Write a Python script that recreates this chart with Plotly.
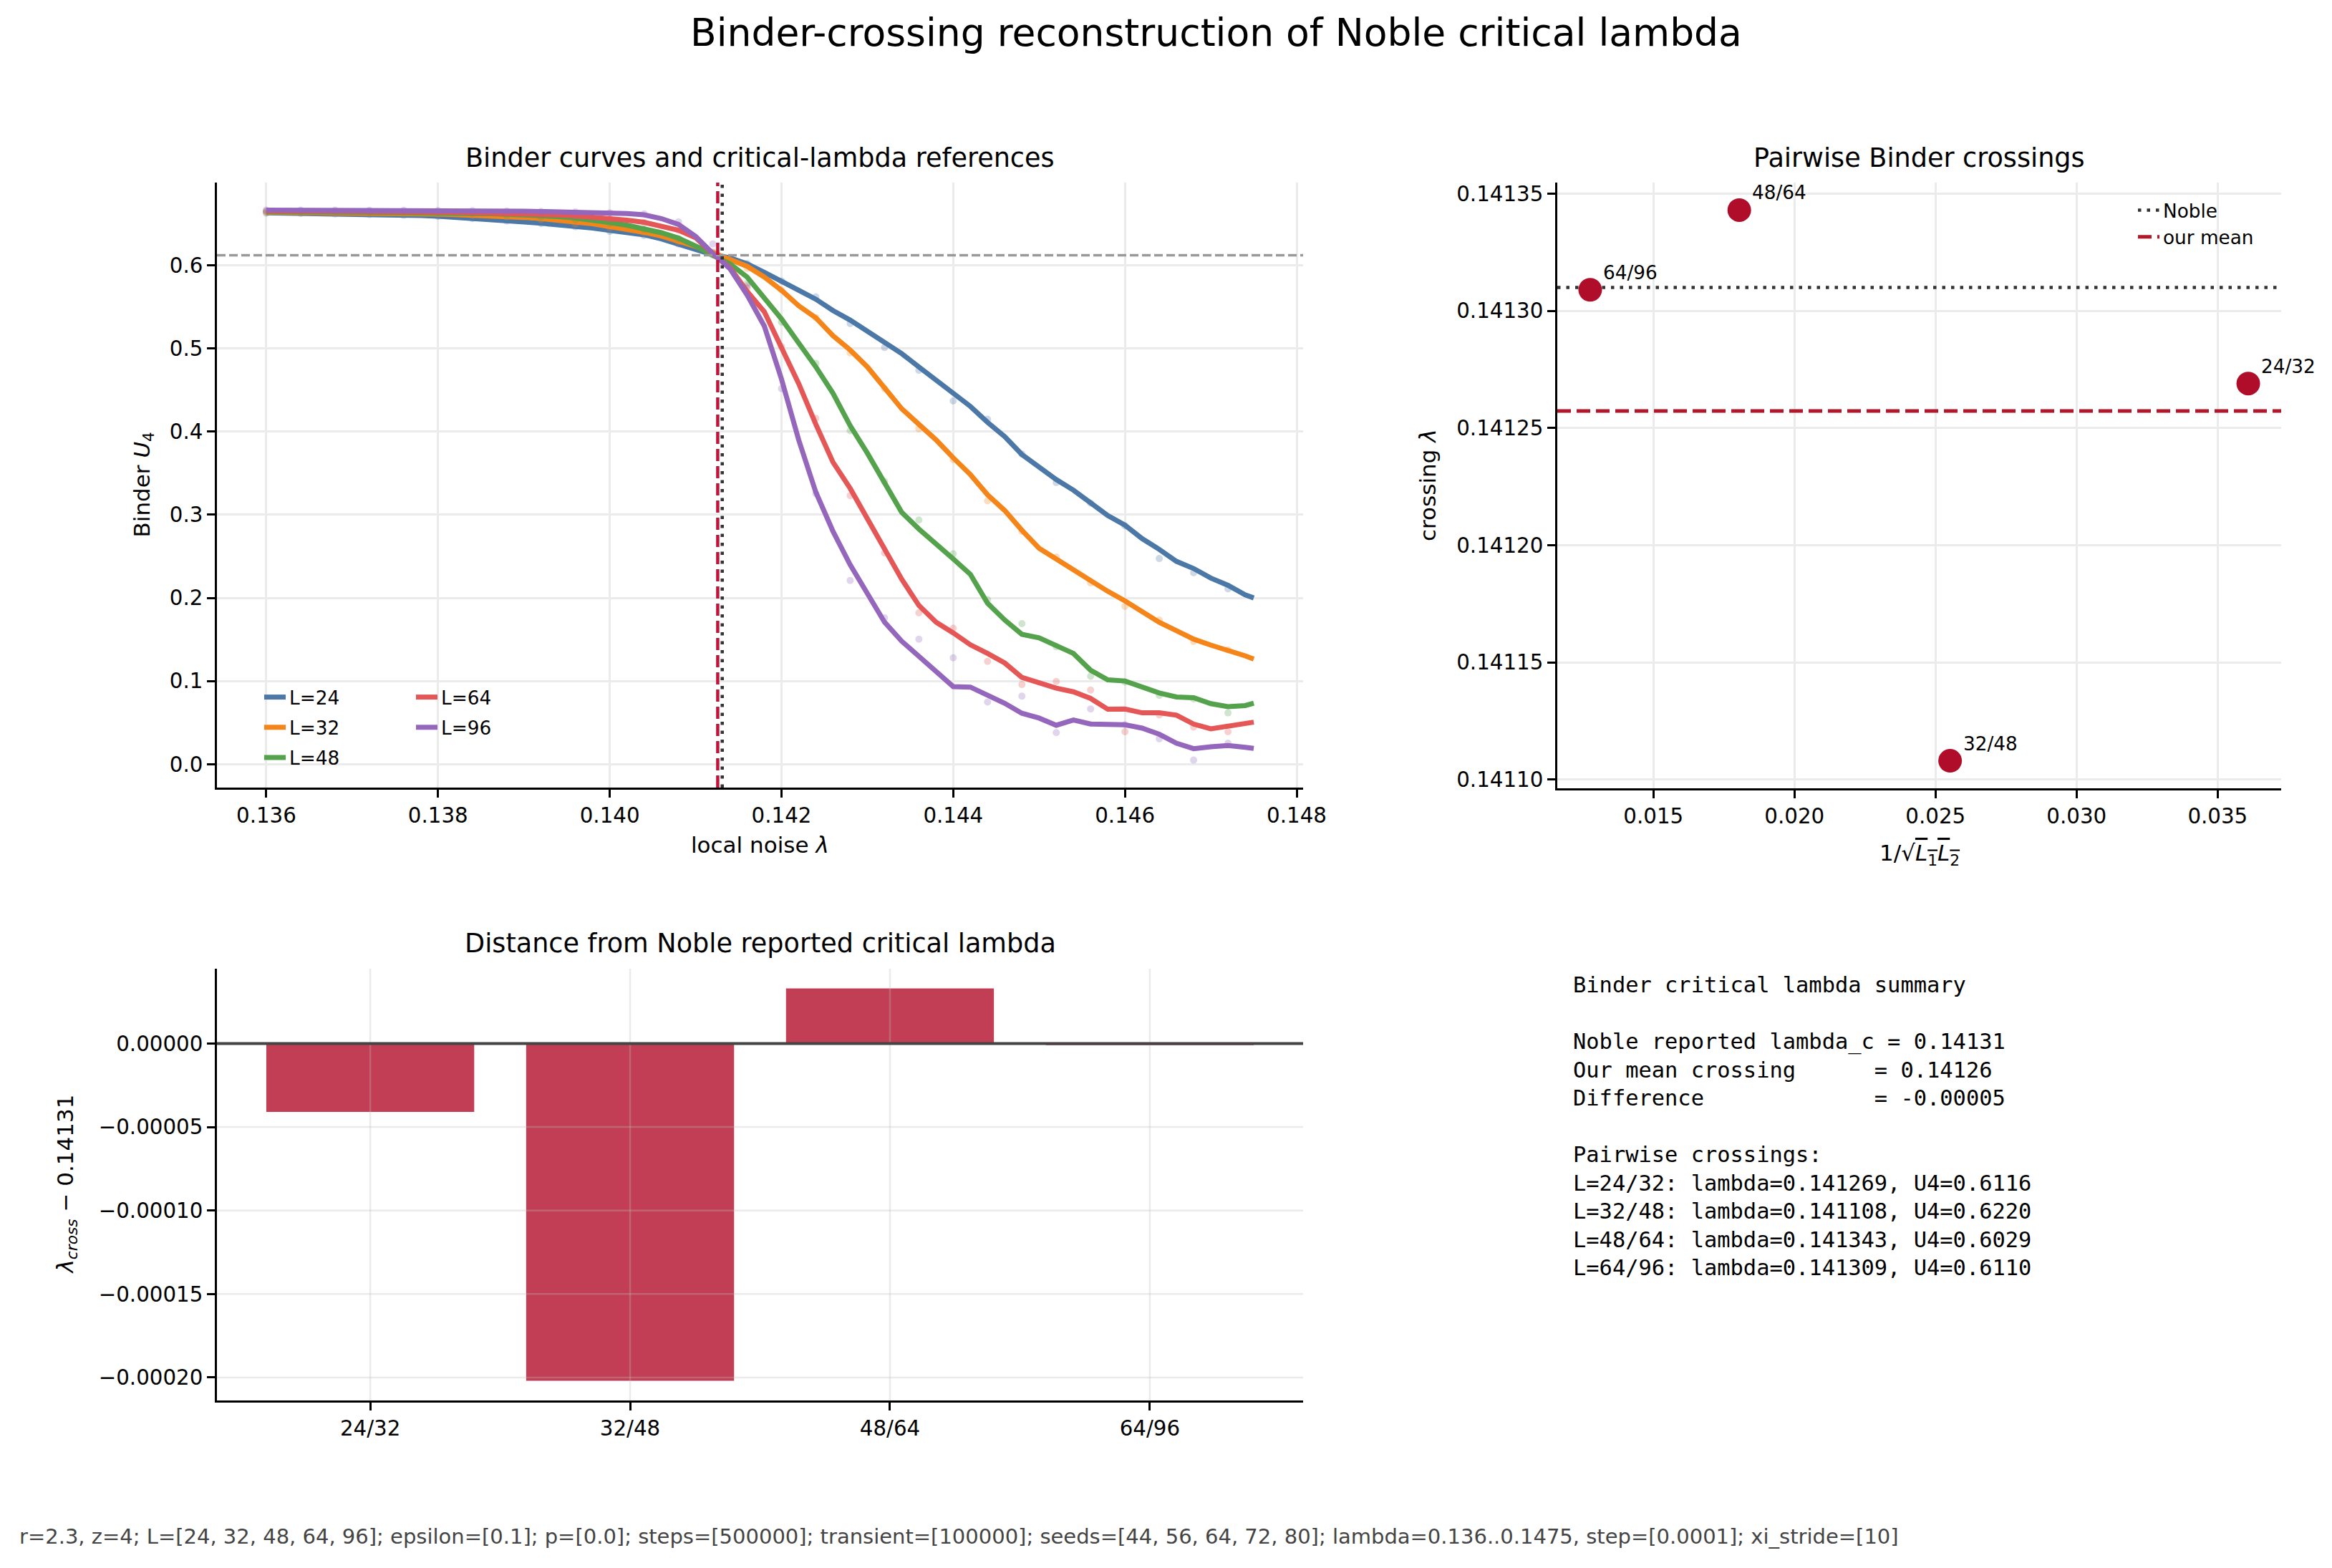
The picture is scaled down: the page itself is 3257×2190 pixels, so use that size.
import plotly.graph_objects as go

# ---------------- data ----------------
L_sizes = [24, 32, 48, 64, 96]
L_colors = ["#4C78A8", "#F58518", "#54A24B", "#E45756", "#9467BD"]

# lambda grid of the (smoothed) curves, and of the sparse raw points
lam_line = [round(0.136 + 0.0002 * k, 4) for k in range(58)] + [0.1475]
lam_raw = [round(0.136 + 0.0004 * k, 4) for k in range(29)]

U_line_24 = [0.6628, 0.6626, 0.6624, 0.6622, 0.6619, 0.6616, 0.6612, 0.6608, 0.6602, 0.6596, 0.6588,
             0.6577, 0.6565, 0.6552, 0.6537, 0.6520, 0.6504, 0.6487, 0.6468, 0.6445, 0.6418,
             0.6395, 0.6365, 0.6315, 0.6250, 0.6185, 0.6125,
             0.6087, 0.6015, 0.5914, 0.5814, 0.5698, 0.5590, 0.5454, 0.5339, 0.5210, 0.5065,
             0.4936, 0.4777, 0.4619, 0.4460, 0.4302, 0.4110, 0.3939, 0.3724, 0.3567, 0.3423,
             0.3295, 0.3133, 0.2990, 0.2875, 0.2712, 0.2583, 0.2439, 0.2353, 0.2238, 0.2151,
             0.2036, 0.1999]
U_line_32 = [0.6636, 0.6635, 0.6634, 0.6632, 0.6630, 0.6628, 0.6626, 0.6623, 0.6620, 0.6617, 0.6613,
             0.6608, 0.6602, 0.6595, 0.6586, 0.6574, 0.6560, 0.6543, 0.6523, 0.6497, 0.6462,
             0.6430, 0.6395, 0.6350, 0.6290, 0.6225, 0.6150,
             0.6075, 0.5986, 0.5857, 0.5698, 0.5511, 0.5367, 0.5152, 0.4979, 0.4777, 0.4533,
             0.4274, 0.4087, 0.3900, 0.3684, 0.3482, 0.3240, 0.3050, 0.2813, 0.2597, 0.2468,
             0.2338, 0.2194, 0.2079, 0.1964, 0.1835, 0.1706, 0.1605, 0.1504, 0.1432, 0.1375,
             0.1303, 0.1265]
U_line_48 = [0.6645, 0.6644, 0.6643, 0.6642, 0.6641, 0.6640, 0.6638, 0.6636, 0.6634, 0.6632, 0.6629,
             0.6626, 0.6622, 0.6618, 0.6612, 0.6605, 0.6595, 0.6583, 0.6567, 0.6545, 0.6512,
             0.6480, 0.6440, 0.6390, 0.6325, 0.6230, 0.6118,
             0.6015, 0.5857, 0.5598, 0.5353, 0.5065, 0.4777, 0.4460, 0.4070, 0.3740, 0.3374,
             0.3029, 0.2828, 0.2656, 0.2469, 0.2283, 0.1936, 0.1734, 0.1562, 0.1519, 0.1432,
             0.1332, 0.1130, 0.1015, 0.1001, 0.0923, 0.0857, 0.0808, 0.0800, 0.0728, 0.0693,
             0.0705, 0.0733]
U_line_64 = [0.6652, 0.6652, 0.6651, 0.6650, 0.6649, 0.6648, 0.6647, 0.6645, 0.6643, 0.6641, 0.6638,
             0.6635, 0.6632, 0.6628, 0.6624, 0.6619, 0.6612, 0.6604, 0.6593, 0.6578, 0.6555,
             0.6540, 0.6515, 0.6475, 0.6420, 0.6330, 0.6135,
             0.5972, 0.5684, 0.5440, 0.5008, 0.4576, 0.4087, 0.3630, 0.3316, 0.2943, 0.2570,
             0.2225, 0.1909, 0.1708, 0.1579, 0.1436, 0.1332, 0.1217, 0.1044, 0.0972, 0.0915,
             0.0871, 0.0791, 0.0661, 0.0664, 0.0618, 0.0618, 0.0590, 0.0483, 0.0426, 0.0454,
             0.0492, 0.0506]
U_line_96 = [0.6662, 0.6662, 0.6662, 0.6661, 0.6661, 0.6660, 0.6660, 0.6659, 0.6658, 0.6657, 0.6656,
             0.6655, 0.6654, 0.6652, 0.6650, 0.6648, 0.6645, 0.6642, 0.6638, 0.6633, 0.6627,
             0.6620, 0.6605, 0.6560, 0.6490, 0.6345, 0.6140,
             0.5957, 0.5640, 0.5267, 0.4630, 0.3900, 0.3270, 0.2799, 0.2397, 0.2038, 0.1708,
             0.1479, 0.1292, 0.1105, 0.0933, 0.0927, 0.0828, 0.0733, 0.0613, 0.0555, 0.0469,
             0.0532, 0.0483, 0.0477, 0.0475, 0.0434, 0.0360, 0.0253, 0.0187, 0.0210, 0.0224,
             0.0204, 0.0190]

U_raw_24 = [0.6625, 0.6622, 0.6617, 0.6610, 0.6600, 0.6586, 0.6560, 0.6530, 0.6500, 0.6462, 0.6405,
            0.6355, 0.6255, 0.6135, 0.6020, 0.5810, 0.5617, 0.5298, 0.5010, 0.4735, 0.4367,
            0.4147, 0.3729, 0.3387, 0.3139, 0.2865, 0.2473, 0.2302, 0.2109]
U_raw_32 = [0.6634, 0.6634, 0.6631, 0.6627, 0.6622, 0.6615, 0.6600, 0.6580, 0.6545, 0.6495, 0.6450,
            0.6390, 0.6280, 0.6160, 0.5960, 0.5700, 0.5369, 0.4945, 0.4516, 0.4031, 0.3662,
            0.3166, 0.2798, 0.2491, 0.2180, 0.1898, 0.1734, 0.1475, 0.1375]
U_raw_48 = [0.6644, 0.6643, 0.6641, 0.6638, 0.6635, 0.6630, 0.6620, 0.6600, 0.6580, 0.6545, 0.6500,
            0.6430, 0.6320, 0.6120, 0.5780, 0.5314, 0.4819, 0.4010, 0.3399, 0.2937, 0.2529,
            0.1979, 0.1691, 0.1412, 0.1058, 0.0990, 0.0828, 0.0785, 0.0618]
U_raw_64 = [0.6651, 0.6650, 0.6649, 0.6647, 0.6644, 0.6639, 0.6632, 0.6624, 0.6610, 0.6590, 0.6555,
            0.6510, 0.6420, 0.6150, 0.5728, 0.5021, 0.4158, 0.3230, 0.2540, 0.1820, 0.1635,
            0.1237, 0.0958, 0.0995, 0.0892, 0.0391, 0.0593, 0.0446, 0.0391]
U_raw_96 = [0.6662, 0.6662, 0.6661, 0.6660, 0.6659, 0.6657, 0.6655, 0.6651, 0.6646, 0.6640, 0.6630,
            0.6615, 0.6520, 0.6255, 0.5750, 0.4516, 0.3253, 0.2210, 0.1760, 0.1503, 0.1280,
            0.0748, 0.0818, 0.0380, 0.0665, 0.0475, 0.0306, 0.0050, 0.0252]

U_line = [U_line_24, U_line_32, U_line_48, U_line_64, U_line_96]
U_raw = [U_raw_24, U_raw_32, U_raw_48, U_raw_64, U_raw_96]

pair_labels = ["24/32", "32/48", "48/64", "64/96"]
pair_L1 = [24, 32, 48, 64]
pair_L2 = [32, 48, 64, 96]
cross_lambda = [0.141269, 0.141108, 0.141343, 0.141309]
cross_U4 = [0.6116, 0.6220, 0.6029, 0.6110]
noble_lambda_c = 0.14131

footer_text = ("r=2.3, z=4; L=[24, 32, 48, 64, 96]; epsilon=[0.1]; p=[0.0]; steps=[500000]; "
               "transient=[100000]; seeds=[44, 56, 64, 72, 80]; lambda=0.136..0.1475, "
               "step=[0.0001]; xi_stride=[10]")

# derived quantities
mean_cross = sum(cross_lambda) / len(cross_lambda)
mean_U4 = sum(cross_U4) / len(cross_U4)
inv_size = [1.0 / (a * b) ** 0.5 for a, b in zip(pair_L1, pair_L2)]
diffs = [c - noble_lambda_c for c in cross_lambda]

# ---------------- layout helpers ----------------
W, H = 3257, 2190
def fx(p):
    return p / W
def fy(p):
    return 1 - p / H

FONT = "DejaVu Sans"
MONO = "DejaVu Sans Mono"
TICK = 29.3
LAB = 31
TITLE = 36.6
LEG = 26.3

def padded(lo, hi, frac=0.05):
    d = (hi - lo) * frac
    return [lo - d, hi + d]

axis_common = dict(showline=True, linecolor="black", linewidth=2.5, ticks="outside",
                   ticklen=11, tickwidth=2.5, tickcolor="black", showgrid=True,
                   gridcolor="#ebebeb", gridwidth=2.5, zeroline=False, mirror=False,
                   automargin=False,
                   tickfont=dict(family=FONT, size=TICK, color="black"))

fig = go.Figure()

# ---------------- panel 1: Binder curves ----------------
for L, c, ul, ur in zip(L_sizes, L_colors, U_line, U_raw):
    fig.add_trace(go.Scatter(x=lam_raw, y=ur, mode="markers", xaxis="x", yaxis="y",
                             marker=dict(color=c, size=10, opacity=0.28, line=dict(width=0)),
                             showlegend=False, hoverinfo="skip", legendgroup=f"L{L}"))
    fig.add_trace(go.Scatter(x=lam_line, y=ul, mode="lines", xaxis="x", yaxis="y",
                             line=dict(color=c, width=7), name=f"L={L}",
                             legend="legend" if L in (24, 32, 48) else "legend2",
                             legendgroup=f"L{L}"))

all_raw = [v for r in U_raw for v in r]
x1_range = padded(min(lam_line), max(lam_line))
y1_range = padded(min(all_raw), max(max(all_raw), max(max(u) for u in U_line)))

# ---------------- panel 2: pairwise crossings ----------------
x2_range = padded(min(inv_size), max(inv_size))
y2_range = padded(min(cross_lambda), max(cross_lambda))
fig.add_trace(go.Scatter(x=x2_range, y=[noble_lambda_c, noble_lambda_c], mode="lines",
                         xaxis="x2", yaxis="y2", name="Noble", legend="legend3",
                         line=dict(color="#333333", width=4.5, dash="4.5px,8px")))
fig.add_trace(go.Scatter(x=x2_range, y=[mean_cross, mean_cross], mode="lines",
                         xaxis="x2", yaxis="y2", name="our mean", legend="legend3",
                         line=dict(color="#b2182b", width=5, dash="19px,8px")))
fig.add_trace(go.Scatter(x=inv_size, y=cross_lambda, mode="markers", xaxis="x2", yaxis="y2",
                         marker=dict(color="#b00d2b", size=33, line=dict(width=0)),
                         showlegend=False))

# ---------------- panel 3: distance bars ----------------
xcat = list(range(len(pair_labels)))
fig.add_trace(go.Bar(x=xcat, y=diffs, width=0.8, xaxis="x3", yaxis="y3",
                     marker=dict(color="rgb(194,62,85)", line=dict(width=0)),
                     showlegend=False))
x3_range = padded(-0.4, len(pair_labels) - 1 + 0.4)
y3_range = padded(min(min(diffs), 0), max(max(diffs), 0))
y3_ticks = [0.0, -0.00005, -0.0001, -0.00015, -0.0002]

# ---------------- axes ----------------
fig.update_layout(
    xaxis=dict(axis_common, domain=[fx(303), fx(1820)], anchor="y", range=x1_range,
               tickvals=[0.136, 0.138, 0.140, 0.142, 0.144, 0.146, 0.148], tickformat=".3f"),
    yaxis=dict(axis_common, domain=[fy(1100), fy(255)], anchor="x", range=y1_range,
               tickvals=[0.0, 0.1, 0.2, 0.3, 0.4, 0.5, 0.6], tickformat=".1f"),
    xaxis2=dict(axis_common, domain=[fx(2175), fx(3186)], anchor="y2", range=x2_range,
                tickvals=[0.015, 0.020, 0.025, 0.030, 0.035], tickformat=".3f"),
    yaxis2=dict(axis_common, domain=[fy(1101), fy(255)], anchor="x2", range=y2_range,
                tickvals=[0.14110, 0.14115, 0.14120, 0.14125, 0.14130, 0.14135], tickformat=".5f"),
    xaxis3=dict(axis_common, domain=[fx(303), fx(1820)], anchor="y3", range=x3_range,
                tickvals=xcat, ticktext=pair_labels, showgrid=False),
    yaxis3=dict(axis_common, domain=[fy(1956), fy(1353)], anchor="x3", range=y3_range,
                tickvals=y3_ticks, tickformat=".5f", showgrid=False),
)

shapes = []
# panel 1 reference lines
shapes.append(dict(type="line", xref="x domain", yref="y", x0=0, x1=1, y0=mean_U4, y1=mean_U4,
                   line=dict(color="#999999", width=3.3, dash="12px,5px")))
shapes.append(dict(type="line", xref="x", yref="y domain", x0=mean_cross, x1=mean_cross, y0=0, y1=1,
                   line=dict(color="#c0143c", width=4.5, dash="17px,7px")))
shapes.append(dict(type="line", xref="x", yref="y domain", x0=noble_lambda_c, x1=noble_lambda_c,
                   y0=0, y1=1, line=dict(color="#333333", width=4.5, dash="4.5px,8px")))
# panel 3 grid (drawn over the bars) and zero line
for t in y3_ticks:
    shapes.append(dict(type="line", xref="x3 domain", yref="y3", x0=0, x1=1, y0=t, y1=t,
                       layer="above", line=dict(color="rgba(190,190,190,0.3)", width=2.5)))
for t in xcat:
    shapes.append(dict(type="line", xref="x3", yref="y3 domain", x0=t, x1=t, y0=0, y1=1,
                       layer="above", line=dict(color="rgba(190,190,190,0.3)", width=2.5)))
shapes.append(dict(type="line", xref="x3 domain", yref="y3", x0=0, x1=1, y0=0, y1=0,
                   layer="above", line=dict(color="#444444", width=4)))

annotations = []
def text(x, y, s, size, **kw):
    d = dict(xref="paper", yref="paper", x=fx(x), y=fy(y), text=s, showarrow=False,
             font=dict(family=kw.pop("family", FONT), size=size, color=kw.pop("color", "black")),
             xanchor=kw.pop("xanchor", "center"), yanchor=kw.pop("yanchor", "middle"))
    d.update(kw)
    annotations.append(d)

text(1698, 46, "Binder-crossing reconstruction of Noble critical lambda", 53.5)
text(1061.5, 220, "Binder curves and critical-lambda references", TITLE)
text(2680.5, 220, "Pairwise Binder crossings", TITLE)
text(1061.5, 1317, "Distance from Noble reported critical lambda", TITLE)
text(1061.5, 1180, "local noise <i>λ</i>", LAB)
text(200, 677.5, "Binder <i>U</i><sub>4</sub>", LAB, textangle=-90)
text(1994, 678, "crossing <i>λ</i>", LAB, textangle=-90)
text(2680.5, 1193, '1/√<span style="text-decoration:overline"><i>L</i><sub>1</sub><i>L</i><sub>2</sub></span>', LAB)
text(93, 1654.5, "<i>λ</i><sub><i>cross</i></sub> − 0.14131", LAB, textangle=-90)

for lab, xv, yv in zip(pair_labels, inv_size, cross_lambda):
    annotations.append(dict(xref="x2", yref="y2", x=xv, y=yv, text=lab, showarrow=False,
                            xanchor="left", yanchor="bottom", xshift=16, yshift=7,
                            font=dict(family=FONT, size=LEG, color="black")))

NB = "\u00a0"
summary_lines = [
    "Binder critical lambda summary",
    "",
    f"Noble reported lambda_c = {noble_lambda_c:.5f}",
    "Our mean crossing" + NB * 6 + f"= {mean_cross:.5f}",
    "Difference" + NB * 13 + f"= {mean_cross - noble_lambda_c:.5f}",
    "",
    "Pairwise crossings:",
] + [f"L={lab}: lambda={c:.6f}, U4={u:.4f}" for lab, c, u in zip(pair_labels, cross_lambda, cross_U4)]
summary = "<br>".join(s.replace(" ", NB) if s else NB for s in summary_lines)
text(2195, 1356, summary, 30.4, family=MONO, xanchor="left", yanchor="top", align="left")

text(25, 2146, footer_text, 29.0, color="#444444", xanchor="left")

leg_common = dict(bgcolor="rgba(0,0,0,0)", borderwidth=0, xanchor="left", yanchor="top",
                  font=dict(family=FONT, size=LEG, color="black"), tracegroupgap=5,
                  itemwidth=30)

fig.update_layout(
    width=W, height=H, margin=dict(l=0, r=0, t=0, b=0, autoexpand=False),
    paper_bgcolor="white", plot_bgcolor="white",
    font=dict(family=FONT, color="black"),
    shapes=shapes, annotations=annotations,
    legend=dict(leg_common, x=fx(364), y=fy(950)),
    legend2=dict(leg_common, x=fx(576), y=fy(950)),
    legend3=dict(leg_common, x=fx(2981), y=fy(270)),
    bargap=0.2,
)

fig.write_html("out.html")
